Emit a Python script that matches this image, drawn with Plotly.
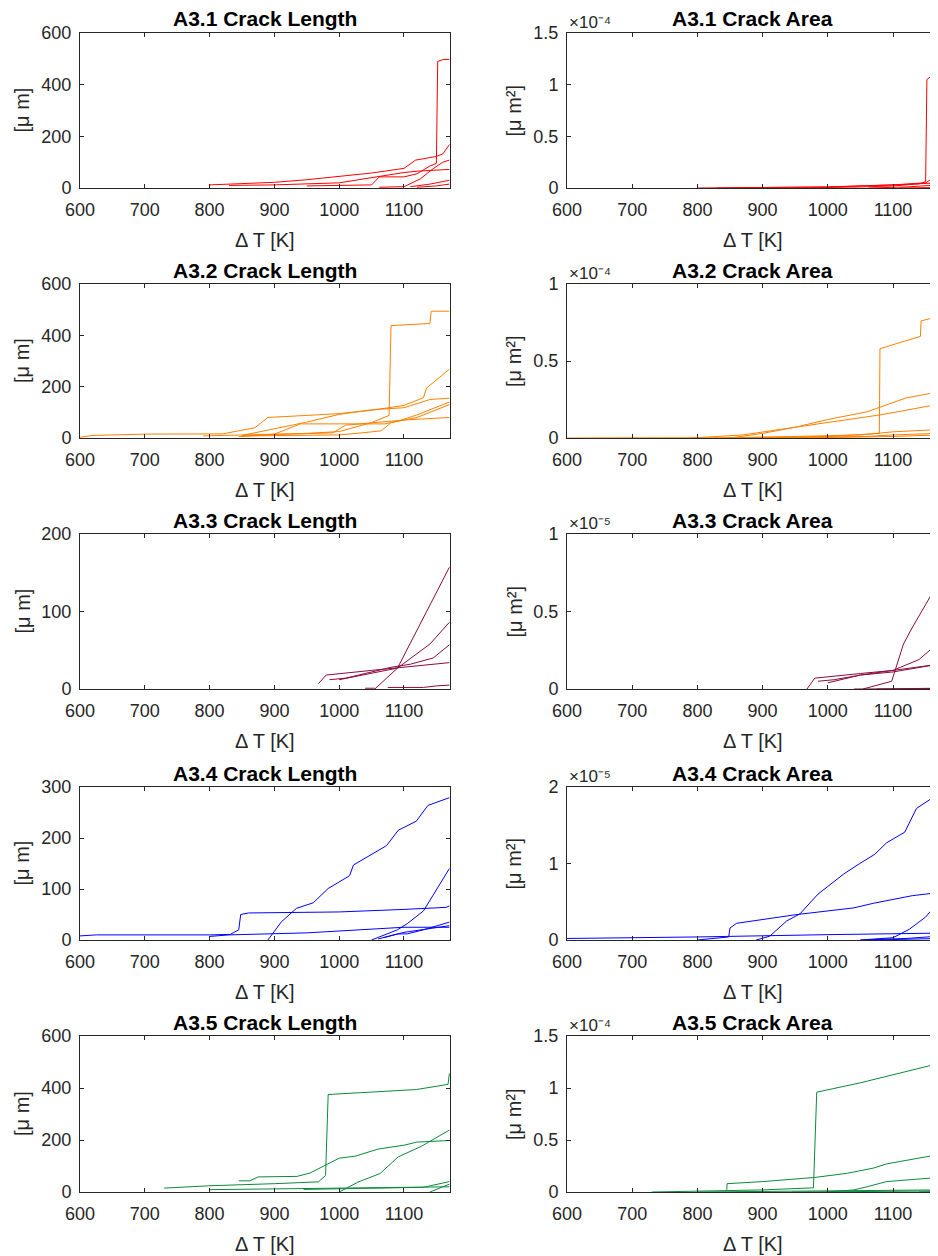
import plotly.graph_objects as go

# The page body has an 8 px margin, so the figure is drawn 8 px smaller and
# all layout pixel positions below are given in window coordinates.
OFF = 8
W, H = 938 - OFF, 1256 - OFF

# ---------------- data ----------------
# A3.1 (red)
A31_LEN = [
    ([800, 850, 900, 950, 1000, 1050, 1100, 1118, 1150, 1160, 1170], [12, 16, 22, 32, 45, 58, 76, 108, 122, 132, 168]),
    ([950, 1000, 1050, 1062, 1100, 1120, 1140, 1150, 1152, 1160, 1170], [8, 10, 12, 43, 43, 55, 85, 95, 490, 497, 498]),
    ([830, 900, 1000, 1060, 1100, 1120, 1170], [10, 12, 20, 45, 60, 65, 72]),
    ([1062, 1100, 1125, 1145, 1160, 1170], [3, 5, 35, 75, 100, 108]),
    ([1110, 1140, 1170], [5, 15, 30]),
    ([1120, 1150, 1170], [3, 8, 15]),
]
A31_AREA = [
    ([950, 1000, 1050, 1100, 1140, 1150, 1152, 1160, 1170], [0, 0.002e-4, 0.01e-4, 0.02e-4, 0.04e-4, 0.06e-4, 1.05e-4, 1.09e-4, 1.10e-4]),
    ([800, 900, 1000, 1100, 1150, 1160, 1170], [0, 0.003e-4, 0.01e-4, 0.03e-4, 0.05e-4, 0.09e-4, 0.10e-4]),
    ([830, 1000, 1100, 1170], [0, 0.01e-4, 0.03e-4, 0.05e-4]),
    ([1062, 1120, 1170], [0, 0.01e-4, 0.03e-4]),
    ([1110, 1170], [0, 0.005e-4]),
]
# A3.2 (orange)
A32_LEN = [
    ([790, 850, 900, 950, 1000, 1050, 1077, 1078, 1080, 1140, 1142, 1170], [8, 12, 15, 18, 25, 60, 88, 195, 438, 446, 494, 494]),
    ([600, 620, 700, 820, 870, 890, 950, 1000, 1050, 1080, 1100, 1130, 1135, 1170], [3, 10, 15, 16, 40, 80, 88, 95, 108, 118, 127, 157, 195, 268]),
    ([850, 900, 950, 1000, 1050, 1100, 1140, 1170], [10, 35, 62, 92, 110, 118, 150, 155]),
    ([845, 900, 940, 1000, 1070, 1090, 1120, 1170], [5, 15, 55, 55, 55, 65, 90, 140]),
    ([850, 990, 1010, 1060, 1080, 1100, 1170], [10, 20, 50, 60, 65, 70, 80]),
    ([850, 1000, 1035, 1065, 1080, 1120, 1170], [8, 12, 20, 28, 60, 80, 130]),
]
A32_AREA = [
    ([790, 900, 1000, 1079, 1080, 1142, 1143, 1170], [0, 0.005e-4, 0.01e-4, 0.03e-4, 0.58e-4, 0.66e-4, 0.76e-4, 0.79e-4]),
    ([600, 800, 870, 900, 950, 1000, 1060, 1080, 1120, 1170], [0, 0.002e-4, 0.02e-4, 0.04e-4, 0.07e-4, 0.12e-4, 0.17e-4, 0.20e-4, 0.26e-4, 0.30e-4]),
    ([850, 900, 950, 1000, 1080, 1120, 1170], [0, 0.03e-4, 0.07e-4, 0.10e-4, 0.15e-4, 0.18e-4, 0.22e-4]),
    ([850, 950, 1050, 1100, 1170], [0, 0.01e-4, 0.02e-4, 0.04e-4, 0.055e-4]),
    ([850, 1000, 1060, 1100, 1170], [0, 0.005e-4, 0.01e-4, 0.02e-4, 0.03e-4]),
    ([850, 1000, 1100, 1170], [0, 0.003e-4, 0.01e-4, 0.02e-4]),
]
# A3.3 (maroon)
A33_LEN = [
    ([1055, 1090, 1170], [0, 27, 157]),
    ([1000, 1050, 1090, 1140, 1170], [12, 20, 27, 58, 86]),
    ([985, 1010, 1040, 1080, 1110, 1145, 1170], [12, 14, 20, 28, 32, 40, 57]),
    ([968, 980, 1050, 1100, 1170], [7, 18, 24, 28, 34]),
    ([1040, 1055], [1, 1]),
    ([1075, 1130, 1150, 1170], [2, 2, 4, 5]),
]
A33_AREA = [
    ([1054, 1098, 1116, 1130, 1159, 1170], [0, 0.05e-5, 0.29e-5, 0.40e-5, 0.61e-5, 0.85e-5]),
    ([1000, 1050, 1100, 1140, 1170], [0.04e-5, 0.09e-5, 0.12e-5, 0.19e-5, 0.30e-5]),
    ([968, 980, 1050, 1100, 1170], [0, 0.07e-5, 0.10e-5, 0.12e-5, 0.16e-5]),
    ([985, 1010, 1050, 1100, 1170], [0.05e-5, 0.06e-5, 0.09e-5, 0.11e-5, 0.16e-5]),
    ([1040, 1170], [0, 0.002e-5]),
    ([1075, 1170], [0, 0.005e-5]),
]
# A3.4 (blue)
A34_LEN = [
    ([890, 911, 934, 960, 983, 1016, 1022, 1073, 1091, 1119, 1137, 1170], [0, 36, 62, 73, 101, 126, 147, 185, 215, 233, 264, 279]),
    ([600, 625, 800, 832, 845, 848, 860, 1000, 1100, 1165, 1170], [8, 10, 10, 11, 20, 50, 53, 55, 60, 64, 67]),
    ([800, 830, 950, 1000, 1100, 1170], [7, 10, 14, 18, 25, 25]),
    ([1050, 1090, 1105, 1130, 1145, 1170], [0, 20, 32, 57, 88, 140]),
    ([1060, 1090, 1105, 1130, 1170], [2, 12, 12, 20, 35]),
    ([1070, 1100, 1170], [5, 15, 28]),
]
A34_AREA = [
    ([890, 911, 937, 957, 985, 1024, 1049, 1072, 1090, 1118, 1136, 1159, 1170], [0, 0.05e-5, 0.25e-5, 0.34e-5, 0.60e-5, 0.86e-5, 1.00e-5, 1.12e-5, 1.27e-5, 1.41e-5, 1.72e-5, 1.85e-5, 1.90e-5]),
    ([800, 840, 848, 850, 860, 950, 1000, 1040, 1070, 1100, 1130, 1170], [0, 0.026e-5, 0.04e-5, 0.157e-5, 0.218e-5, 0.33e-5, 0.38e-5, 0.42e-5, 0.48e-5, 0.53e-5, 0.58e-5, 0.62e-5]),
    ([600, 800, 1000, 1170], [0.02e-5, 0.04e-5, 0.07e-5, 0.09e-5]),
    ([1050, 1100, 1125, 1150, 1170], [0, 0.03e-5, 0.14e-5, 0.30e-5, 0.50e-5]),
    ([1050, 1120, 1170], [0, 0.02e-5, 0.05e-5]),
    ([1070, 1170], [0, 0.02e-5]),
]
# A3.5 (green)
A35_LEN = [
    ([730, 800, 900, 968, 979, 983, 1119, 1145, 1168, 1170], [15, 24, 32, 39, 64, 375, 394, 405, 414, 456]),
    ([845, 862, 875, 935, 955, 980, 1000, 1025, 1060, 1100, 1120, 1170], [43, 43, 58, 60, 73, 105, 130, 138, 165, 180, 192, 198]),
    ([1000, 1029, 1063, 1091, 1127, 1160, 1170], [0, 38, 71, 135, 176, 225, 238]),
    ([800, 1000, 1170], [9, 15, 20]),
    ([945, 1130, 1170], [10, 18, 40]),
    ([1140, 1170], [0, 30]),
]
A35_AREA = [
    ([730, 900, 978, 983, 1050, 1100, 1160, 1168, 1170], [0, 0.02e-4, 0.04e-4, 0.96e-4, 1.05e-4, 1.13e-4, 1.22e-4, 1.23e-4, 1.34e-4]),
    ([845, 845.5, 900, 980, 1030, 1070, 1090, 1170], [0.02e-4, 0.08e-4, 0.10e-4, 0.14e-4, 0.18e-4, 0.23e-4, 0.27e-4, 0.36e-4]),
    ([1000, 1040, 1060, 1090, 1170], [0, 0.02e-4, 0.05e-4, 0.10e-4, 0.14e-4]),
    ([800, 1170], [0, 0.02e-4]),
    ([945, 1170], [0, 0.01e-4]),
    ([1140, 1170], [0, 0.005e-4]),
]

SPECIMENS = ["A3.1", "A3.2", "A3.3", "A3.4", "A3.5"]
COLORS = ["#ff0000", "#ff8000", "#8c0a3c", "#0000ff", "#0b8a3b"]
LEN_DATA = [A31_LEN, A32_LEN, A33_LEN, A34_LEN, A35_LEN]
AREA_DATA = [A31_AREA, A32_AREA, A33_AREA, A34_AREA, A35_AREA]
LEN_YMAX = [600, 600, 200, 300, 600]
LEN_TICKS = [[0, 200, 400, 600], [0, 200, 400, 600], [0, 100, 200], [0, 100, 200, 300], [0, 200, 400, 600]]
AREA_SCALE = [1e-4, 1e-4, 1e-5, 1e-5, 1e-4]
AREA_YMAX = [1.5, 1.0, 1.0, 2.0, 1.5]
AREA_TICKS = [[0, 0.5, 1, 1.5], [0, 0.5, 1], [0, 0.5, 1], [0, 1, 2], [0, 0.5, 1, 1.5]]
AREA_EXP = ["⁻⁴", "⁻⁴", "⁻⁵", "⁻⁵", "⁻⁴"]
X_TICKS = [600, 700, 800, 900, 1000, 1100]

# ---------------- layout geometry (window pixels) ----------------
ROW_TOP = [33, 284, 534, 787, 1036]
ROW_BOT = [188, 438, 689, 940, 1192]
LEFT_X = (80, 450)
RIGHT_X = (567, 938)

AX_COL = "#262626"
FONT = "Liberation Sans, Arial, Helvetica, sans-serif"
TICK_SIZE = 18
LABEL_SIZE = 20
TITLE_SIZE = 21


def px(x):
    return (x - OFF) / W


def py(y):
    return 1 - (y - OFF) / H


def fmt(v):
    return ("%g" % v)


fig = go.Figure()
layout = dict(
    template="none",
    width=W, height=H,
    margin=dict(l=0, r=0, t=0, b=0, pad=0, autoexpand=False),
    paper_bgcolor="white", plot_bgcolor="white",
    showlegend=False,
    font=dict(family=FONT, size=TICK_SIZE, color=AX_COL),
)
annotations = []

for r in range(5):
    for c in range(2):
        idx = r * 2 + c + 1
        sfx = "" if idx == 1 else str(idx)
        xname, yname = "x" + sfx, "y" + sfx
        xl, xr = (LEFT_X if c == 0 else RIGHT_X)
        dom_x = [px(xl), min(1.0, px(xr))]
        dom_y = [py(ROW_BOT[r]), py(ROW_TOP[r])]
        xmax = 1171 if c == 0 else 1169
        if c == 0:
            yr = [0, LEN_YMAX[r]]
            tv = LEN_TICKS[r]
            tt = [fmt(v) for v in tv]
            series = LEN_DATA[r]
        else:
            s = AREA_SCALE[r]
            yr = [0, AREA_YMAX[r] * s]
            tv = [v * s for v in AREA_TICKS[r]]
            tt = [fmt(v) for v in AREA_TICKS[r]]
            series = AREA_DATA[r]
        layout["xaxis" + sfx] = dict(
            domain=dom_x, anchor=yname, range=[600, xmax], automargin=False,
            tickvals=X_TICKS, ticktext=[str(v) for v in X_TICKS],
            ticks="inside", ticklen=4, tickwidth=1, tickcolor=AX_COL,
            showline=True, linecolor=AX_COL, linewidth=1, mirror="ticks",
            showgrid=False, zeroline=False,
            tickfont=dict(family=FONT, size=TICK_SIZE, color=AX_COL),
            ticklabelstandoff=5,
        )
        layout["yaxis" + sfx] = dict(
            domain=dom_y, anchor=xname, range=yr, automargin=False,
            tickvals=tv, ticktext=tt,
            ticks="inside", ticklen=4, tickwidth=1, tickcolor=AX_COL,
            showline=True, linecolor=AX_COL, linewidth=1, mirror="ticks",
            showgrid=False, zeroline=False,
            tickfont=dict(family=FONT, size=TICK_SIZE, color=AX_COL),
            ticklabelstandoff=4,
        )
        for (tx, vy) in series:
            fig.add_trace(go.Scatter(
                x=tx, y=vy, mode="lines", xaxis=xname, yaxis=yname,
                line=dict(color=COLORS[r], width=1), hoverinfo="skip",
            ))
        cx = (xl + xr) / 2
        title = SPECIMENS[r] + (" Crack Length" if c == 0 else " Crack Area")
        annotations.append(dict(
            text=title, x=px(cx), y=py(ROW_TOP[r] - 14),
            xref="paper", yref="paper", xanchor="center", yanchor="middle",
            showarrow=False,
            font=dict(family=FONT, size=TITLE_SIZE, color="black", weight="bold"),
        ))
        annotations.append(dict(
            text="Δ T [K]", x=px(cx), y=py(ROW_BOT[r] + 52),
            xref="paper", yref="paper", xanchor="center", yanchor="middle",
            showarrow=False, font=dict(family=FONT, size=LABEL_SIZE, color=AX_COL),
        ))
        ylab = "[μ m]" if c == 0 else "[μ m²]"
        ylx = 22 if c == 0 else 514
        annotations.append(dict(
            text=ylab, x=px(ylx), y=py((ROW_TOP[r] + ROW_BOT[r]) / 2),
            xref="paper", yref="paper", xanchor="center", yanchor="middle",
            textangle=-90, showarrow=False,
            font=dict(family=FONT, size=LABEL_SIZE, color=AX_COL),
        ))
        if c == 1:
            annotations.append(dict(
                text="×10" + AREA_EXP[r], x=px(xl), y=py(ROW_TOP[r] + 1),
                xref="paper", yref="paper", xanchor="left", yanchor="bottom",
                showarrow=False, font=dict(family=FONT, size=17, color=AX_COL),
            ))

layout["annotations"] = annotations
fig.update_layout(**layout)
fig.write_html("out.html")
